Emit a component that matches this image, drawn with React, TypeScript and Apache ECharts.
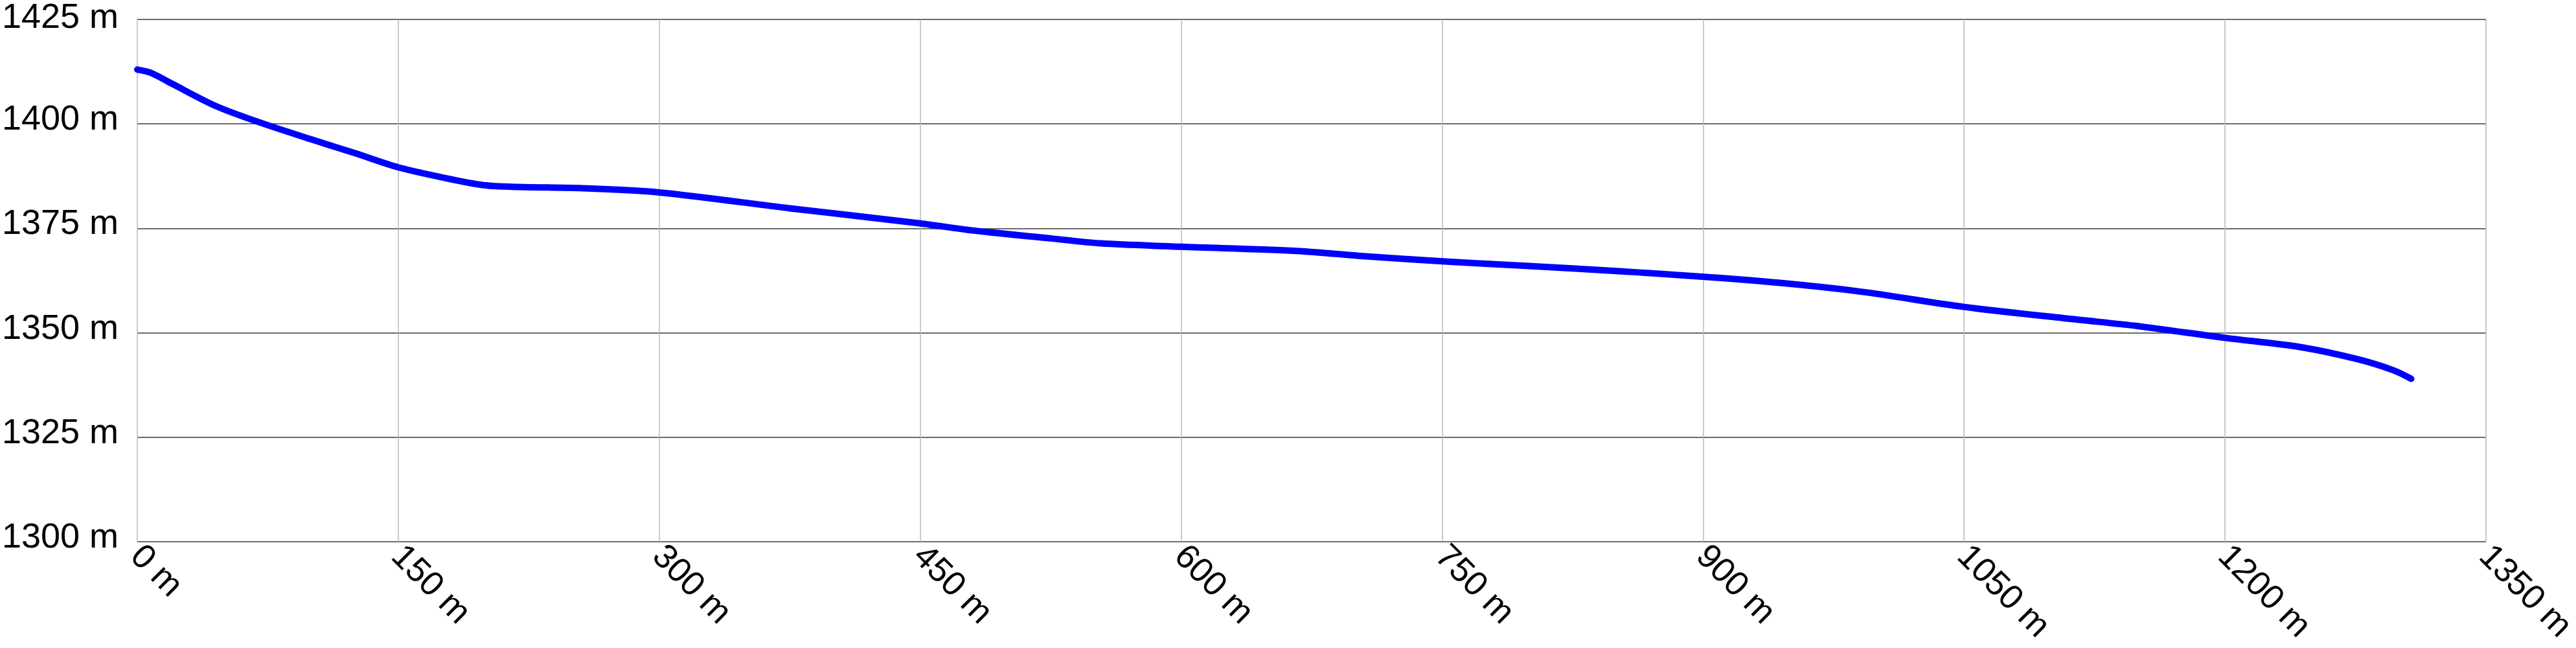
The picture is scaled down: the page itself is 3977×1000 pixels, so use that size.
import React, { useEffect, useRef } from "react";
import * as echarts from "echarts";

const distances = [0, 8, 20, 45, 70, 100, 125, 150, 182, 200, 219, 256, 300, 375, 450, 480, 525, 554, 600, 666, 703, 750, 800, 850, 926, 988, 1050, 1112, 1150, 1200, 1243, 1276, 1297, 1307];
const elevations = [1413.0, 1412.2, 1409.6, 1404.3, 1400.4, 1396.3, 1393.0, 1389.6, 1386.6, 1385.3, 1384.9, 1384.6, 1383.6, 1379.8, 1376.2, 1374.5, 1372.6, 1371.4, 1370.6, 1369.6, 1368.4, 1367.1, 1366.0, 1364.8, 1362.6, 1360.0, 1356.2, 1353.3, 1351.6, 1348.8, 1346.6, 1343.7, 1341.0, 1339.0];

const xMin = 0;
const xMax = 1350;
const xStep = 150;
const yMin = 1300;
const yMax = 1425;
const yStep = 25;
const unit = " m";

export default function App() {
  const ref = useRef<HTMLDivElement>(null);
  useEffect(() => {
    if (!ref.current) return;
    const chart = echarts.init(ref.current, undefined, { renderer: "svg" });
    const font = "Liberation Sans, Arial, sans-serif";
    chart.setOption({
      animation: false,
      backgroundColor: "#ffffff",
      grid: {
        left: 212,
        top: 30,
        right: 139,
        bottom: 164,
        containLabel: false,
        outerBoundsMode: "none",
      },
      xAxis: {
        type: "value",
        min: xMin,
        max: xMax,
        interval: xStep,
        axisLine: { show: false },
        axisTick: { show: false },
        splitLine: { show: true, lineStyle: { color: "#b8b8b8", width: 1.5 } },
        axisLabel: {
          formatter: (v: number) => `${v}${unit}`,
          rotate: -45,
          margin: 12,
          fontSize: 53,
          color: "#000",
          fontFamily: font,
          showMinLabel: true,
          showMaxLabel: true,
        },
      },
      yAxis: {
        type: "value",
        min: yMin,
        max: yMax,
        interval: yStep,
        axisLine: { show: false },
        axisTick: { show: false },
        splitLine: { show: true, lineStyle: { color: "#3a3a3a", width: 1.5 } },
        axisLabel: {
          formatter: (v: number) => (v === yMax ? `{t|${v}${unit}}` : `${v}${unit}`),
          margin: 29,
          fontSize: 54,
          color: "#000",
          fontFamily: font,
          verticalAlign: "bottom",
          lineHeight: 20,
          rich: {
            t: { fontSize: 54, fontFamily: font, color: "#000", lineHeight: 12 },
          },
          showMinLabel: true,
          showMaxLabel: true,
        },
      },
      series: [
        {
          type: "line",
          data: distances.map((d, i) => [d, elevations[i]]),
          smooth: 0.3,
          showSymbol: false,
          symbol: "none",
          lineStyle: { color: "#0000ff", width: 10, cap: "round", join: "round" },
        },
      ],
    });
    return () => chart.dispose();
  }, []);
  return (
    <div
      ref={ref}
      style={{ position: "fixed", left: 0, top: 0, width: 3977, height: 1000, background: "#fff" }}
    />
  );
}
